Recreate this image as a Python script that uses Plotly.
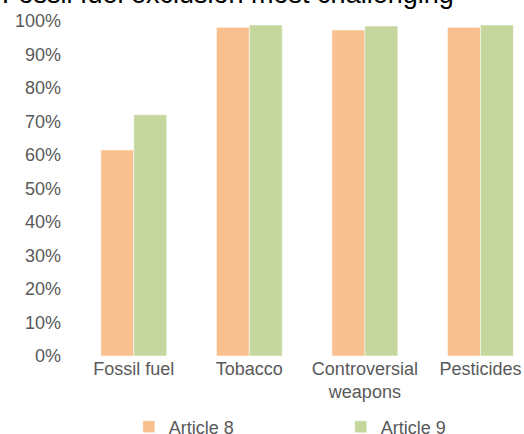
import plotly.graph_objects as go

# Share of funds applying each exclusion, by SFDR classification
categories = ["Fossil fuel", "Tobacco", "Controversial<br>weapons", "Pesticides"]
article_8 = [0.615, 0.981, 0.973, 0.981]
article_9 = [0.72, 0.988, 0.985, 0.988]

title_text = "Fossil fuel exclusion most challenging"
series_names = ["Article 8", "Article 9"]
colors = ["#F9C08F", "#C5D79D"]

font_family = "Liberation Sans, Arial, sans-serif"
text_color = "#595959"

fig = go.Figure()
for name, values, color, leg in zip(series_names, [article_8, article_9], colors,
                                    ["legend", "legend2"]):
    fig.add_trace(go.Bar(
        x=categories,
        y=values,
        name=name,
        legend=leg,
        marker=dict(color=color, line=dict(color="rgba(255,255,255,0.5)", width=1)),
    ))

legend_common = dict(
    orientation="h",
    xanchor="left",
    yref="container",
    y=0.016,
    yanchor="middle",
    font=dict(size=18, color=text_color),
    itemclick=False,
    bgcolor="rgba(0,0,0,0)",
)

fig.update_layout(
    width=524,
    height=434,
    margin=dict(l=76, r=0, t=21, b=78),
    paper_bgcolor="white",
    plot_bgcolor="white",
    barmode="group",
    bargap=0.43,
    bargroupgap=0,
    font=dict(family=font_family, size=18, color=text_color),
    showlegend=True,
    legend=dict(x=0.118, **legend_common),
    legend2=dict(x=0.591, **legend_common),
    annotations=[dict(
        text=title_text,
        xref="paper",
        yref="paper",
        x=-76 / 448,
        y=1.03,
        xanchor="left",
        yanchor="bottom",
        showarrow=False,
        font=dict(family=font_family, size=27, color="#000000"),
    )],
)

fig.update_xaxes(
    range=[-0.5, 3.377],
    showgrid=False,
    showline=False,
    zeroline=False,
    ticks="",
    tickfont=dict(size=18, color=text_color),
)
fig.update_yaxes(
    range=[0, 1],
    dtick=0.1,
    tickformat=".0%",
    showgrid=False,
    showline=False,
    zeroline=False,
    ticks="",
    ticklabelstandoff=14,
    tickfont=dict(size=18, color=text_color),
)

fig.write_html("out.html")
